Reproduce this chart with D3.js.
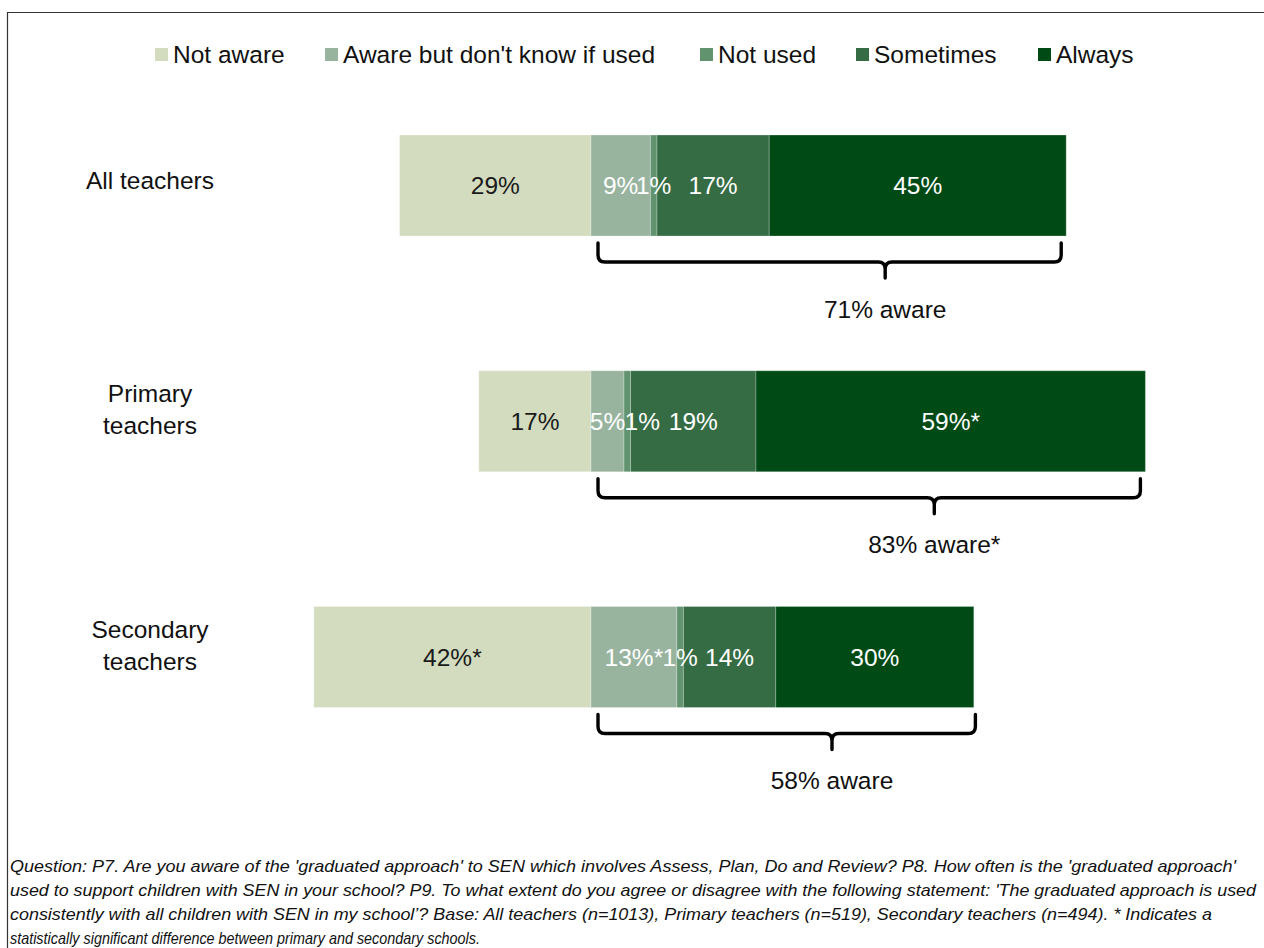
<!DOCTYPE html>
<html>
<head>
<meta charset="utf-8">
<script src="https://cdn.jsdelivr.net/npm/d3@7"></script>
<style>
  html, body { margin: 0; padding: 0; background: #fff; }
  svg { display: block; font-family: "Liberation Sans", Arial, sans-serif; }
</style>
</head>
<body>
<svg id="chart" width="1264" height="948"></svg>
<script>
// Awareness and use of the 'graduated approach' to SEN, by teacher group
const categories = ["All teachers", "Primary teachers", "Secondary teachers"];
const categoryLines = [["All teachers"], ["Primary", "teachers"], ["Secondary", "teachers"]];
const seriesNames = ["Not aware", "Aware but don't know if used", "Not used", "Sometimes", "Always"];

const notAware      = [29, 17, 42];
const awareUnknown  = [9, 5, 13];
const notUsed       = [1, 1, 1];
const sometimes     = [17, 19, 14];
const always        = [45, 59, 30];
const awareTotal    = [71, 83, 58];

// "*" marks a statistically significant primary/secondary difference
const notAwareSig     = ["", "", "*"];
const awareUnknownSig = ["", "", "*"];
const notUsedSig      = ["", "", ""];
const sometimesSig    = ["", "", ""];
const alwaysSig       = ["", "*", ""];
const awareTotalSig   = ["", "*", ""];

const colors = ["#d3dcbf", "#98b49f", "#62936f", "#356c44", "#004a16"];

const footnote = [
  "Question: P7. Are you aware of the 'graduated approach' to SEN which involves Assess, Plan, Do and Review? P8. How often is the 'graduated approach'",
  "used to support children with SEN in your school? P9. To what extent do you agree or disagree with the following statement: 'The graduated approach is used",
  "consistently with all children with SEN in my school\u2019? Base: All teachers (n=1013), Primary teachers (n=519), Secondary teachers (n=494). * Indicates a",
  "statistically significant difference between primary and secondary schools."
];
// set width of each footnote line (px)
const footnoteWidths = [1226, 1246, 1202, 470];

const FONT = 24.5;
const svg = d3.select("#chart");

// frame
svg.append("path")
  .attr("d", "M7.5,948 L7.5,12.5 L1264,12.5")
  .attr("fill", "none")
  .attr("stroke", "#333")
  .attr("stroke-width", 1.2);

// scales: zero sits at the boundary between "not aware" and the aware categories
const x = d3.scaleLinear().domain([-50, 100]).range([261, 1251]);
const y = d3.scalePoint().domain(categories).range([185.5, 657]);
const barH = 101;

// build segments
const segs = [];
categories.forEach((c, i) => {
  segs.push({cat: c, s: 0, x0: -notAware[i], x1: 0, v: notAware[i], sig: notAwareSig[i]});
  const vals = [awareUnknown[i], notUsed[i], sometimes[i], always[i]];
  const sigs = [awareUnknownSig[i], notUsedSig[i], sometimesSig[i], alwaysSig[i]];
  const ends = d3.cumsum(vals);
  vals.forEach((v, k) => {
    segs.push({cat: c, s: k + 1, x0: ends[k] - v, x1: ends[k], v: v, sig: sigs[k]});
  });
});

// small sideways shift for a label that would collide with its neighbour
const labelShift = d => (d.cat === "Primary teachers" && d.s === 2) ? 15 : 0;

const bars = svg.append("g");
bars.selectAll("rect").data(segs).join("rect")
  .attr("x", d => x(d.x0))
  .attr("width", d => x(d.x1) - x(d.x0))
  .attr("y", d => y(d.cat) - barH / 2)
  .attr("height", barH)
  .attr("fill", d => colors[d.s])
  .attr("stroke", "rgba(255,255,255,0.25)")
  .attr("stroke-width", 1);

bars.selectAll("text").data(segs).join("text")
  .attr("x", d => (x(d.x0) + x(d.x1)) / 2 + labelShift(d))
  .attr("y", d => y(d.cat))
  .attr("dy", "0.35em")
  .attr("text-anchor", "middle")
  .attr("font-size", FONT)
  .attr("fill", d => d.s === 0 ? "#1a1a1a" : "#ffffff")
  .text(d => d.v + "%" + d.sig);

// category labels
const cat = svg.append("g");
categories.forEach((c, i) => {
  const lines = categoryLines[i];
  const cy = y(c) - (lines.length === 1 ? 5 : 12);
  lines.forEach((ln, j) => {
    cat.append("text")
      .attr("x", 150)
      .attr("y", cy + (j - (lines.length - 1) / 2) * 32)
      .attr("dy", "0.35em")
      .attr("text-anchor", "middle")
      .attr("font-size", FONT)
      .attr("fill", "#111")
      .text(ln);
  });
});

// braces under the aware portion of each bar
const br = svg.append("g");
categories.forEach((c, i) => {
  const bottom = y(c) + barH / 2;
  const x0 = x(0) + 7;
  const x1 = x(awareTotal[i] + 1) - 5;
  const cx = x0 + 0.62 * (x1 - x0);
  const yTop = bottom + 7, yMid = bottom + 26, yEnd = bottom + 42, r = 7;
  const p = d3.path();
  p.moveTo(x0, yTop);
  p.lineTo(x0, yMid - r);
  p.quadraticCurveTo(x0, yMid, x0 + r, yMid);
  p.lineTo(cx - r, yMid);
  p.quadraticCurveTo(cx, yMid, cx, yMid + r);
  p.lineTo(cx, yEnd);
  p.moveTo(x1, yTop);
  p.lineTo(x1, yMid - r);
  p.quadraticCurveTo(x1, yMid, x1 - r, yMid);
  p.lineTo(cx + r, yMid);
  p.quadraticCurveTo(cx, yMid, cx, yMid + r);
  br.append("path")
    .attr("d", p.toString())
    .attr("fill", "none")
    .attr("stroke", "#000")
    .attr("stroke-width", 3.4)
    .attr("stroke-linecap", "round")
    .attr("stroke-linejoin", "round");
  br.append("text")
    .attr("x", cx)
    .attr("y", bottom + 73)
    .attr("dy", "0.35em")
    .attr("text-anchor", "middle")
    .attr("font-size", FONT)
    .attr("fill", "#111")
    .text(awareTotal[i] + "% aware" + awareTotalSig[i]);
});

// legend
const legendX = [155, 325, 700, 856, 1038];
const lg = svg.append("g");
seriesNames.forEach((n, i) => {
  lg.append("rect")
    .attr("x", legendX[i]).attr("y", 48)
    .attr("width", 13).attr("height", 13)
    .attr("fill", colors[i]);
  lg.append("text")
    .attr("x", legendX[i] + 18).attr("y", 54)
    .attr("dy", "0.35em")
    .attr("font-size", FONT)
    .attr("fill", "#111")
    .text(n);
});

// footnote, italic, each line fitted to its set width
const fn = svg.append("g")
  .attr("font-family", "'Liberation Sans Narrow', 'Arial Narrow', 'Liberation Sans', Arial, sans-serif")
  .attr("font-style", "italic")
  .attr("font-size", 17)
  .attr("fill", "#111");
footnote.forEach((t, i) => {
  fn.append("text")
    .attr("x", 10)
    .attr("y", 866 + i * 24)
    .attr("dy", "0.35em")
    .attr("textLength", footnoteWidths[i])
    .attr("lengthAdjust", "spacingAndGlyphs")
    .text(t);
});
</script>
</body>
</html>
